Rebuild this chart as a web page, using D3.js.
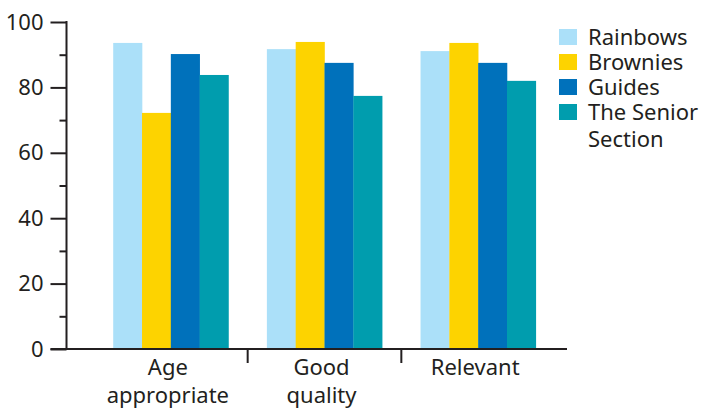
<!DOCTYPE html>
<html>
<head>
<meta charset="utf-8">
<script src="https://cdn.jsdelivr.net/npm/d3@7"></script>
<style>
  html, body { margin: 0; padding: 0; background: #fff; }
  svg { display: block; }
  text { font-family: "Noto Sans", sans-serif; fill: #231f20; }
</style>
</head>
<body>
<svg id="chart" width="705" height="410"></svg>
<script>
// Survey results: share (%) agreeing with each statement, by section
const categories = [["Age", "appropriate"], ["Good", "quality"], ["Relevant"]];
const seriesNames = ["Rainbows", "Brownies", "Guides", "The Senior Section"];
const rainbows = [93.6, 91.7, 91.1];
const brownies = [72.2, 93.9, 93.6];
const guides   = [90.2, 87.5, 87.5];
const senior   = [83.8, 77.4, 82.0];
const yTicks = [0, 20, 40, 60, 80, 100];
const colors = ["#abe0f9", "#fdd300", "#0071bb", "#009dae"];

const series = [rainbows, brownies, guides, senior];
const catKeys = categories.map(c => c.join(" "));

const svg = d3.select("#chart");
const axisColor = "#231f20";
const fontSize = 22;

const x0 = d3.scaleBand()
  .domain(catKeys)
  .range([94, 555])
  .paddingInner(0.25)
  .paddingOuter(0.125);

const x1 = d3.scaleBand()
  .domain(seriesNames)
  .range([0, x0.bandwidth()]);

const y = d3.scaleLinear().domain([0, 100]).range([349, 22]);
const axisX = 66.5;

// Bars
const groups = svg.append("g")
  .selectAll("g")
  .data(catKeys)
  .join("g")
  .attr("transform", d => `translate(${x0(d)},0)`);

groups.selectAll("rect")
  .data((d, i) => seriesNames.map((s, j) => ({ s, v: series[j][i], c: colors[j] })))
  .join("rect")
  .attr("x", d => x1(d.s))
  .attr("width", x1.bandwidth() + 0.3)
  .attr("y", d => y(d.v))
  .attr("height", d => y(0) - y(d.v))
  .attr("fill", d => d.c);

// Y axis with major and minor ticks
const yAxis = svg.append("g").attr("transform", `translate(${axisX},0)`);
yAxis.call(d3.axisLeft(y).tickValues(d3.range(10, 100, 20)).tickSize(7).tickFormat(""))
  .call(g => g.select(".domain").remove());
yAxis.append("g")
  .call(d3.axisLeft(y).tickValues(yTicks).tickSize(16).tickPadding(7).tickFormat(d3.format("d")))
  .call(g => g.select(".domain").remove())
  .call(g => g.selectAll("text").attr("font-size", fontSize).attr("font-family", null).attr("fill", axisColor));
yAxis.selectAll("line").attr("stroke", axisColor).attr("stroke-width", 2);
yAxis.append("line")
  .attr("x1", 0).attr("x2", 0)
  .attr("y1", y(100) - 1).attr("y2", y(0))
  .attr("stroke", axisColor).attr("stroke-width", 2);

// X baseline and category dividers
svg.append("line")
  .attr("x1", axisX - 16).attr("x2", 567)
  .attr("y1", y(0)).attr("y2", y(0))
  .attr("stroke", axisColor).attr("stroke-width", 2);

const half = x0.step() * x0.paddingInner() / 2;
svg.append("g").selectAll("line")
  .data(catKeys.slice(1))
  .join("line")
  .attr("x1", d => x0(d) - half).attr("x2", d => x0(d) - half)
  .attr("y1", y(0)).attr("y2", y(0) + 14)
  .attr("stroke", axisColor).attr("stroke-width", 2);

// Category labels
svg.append("g").selectAll("text")
  .data(categories)
  .join("text")
  .attr("text-anchor", "middle")
  .attr("font-size", fontSize)
  .attr("transform", (d, i) => `translate(${x0(catKeys[i]) + x0.bandwidth() / 2 - 3},375)`)
  .selectAll("tspan")
  .data(d => d)
  .join("tspan")
  .attr("x", 0)
  .attr("y", (d, i) => i * 28)
  .text(d => d);

// Legend
const legend = svg.append("g").attr("transform", "translate(559,29)");
const legendLines = [["Rainbows"], ["Brownies"], ["Guides"], ["The Senior", "Section"]];
const rows = legend.selectAll("g")
  .data(seriesNames)
  .join("g")
  .attr("transform", (d, i) => `translate(0,${i * 25})`);
rows.append("rect")
  .attr("width", 18).attr("height", 16)
  .attr("fill", (d, i) => colors[i]);
rows.append("text")
  .attr("font-size", fontSize)
  .selectAll("tspan")
  .data((d, i) => legendLines[i])
  .join("tspan")
  .attr("x", 29)
  .attr("y", (d, i) => 16 + i * 26.5)
  .text(d => d);
</script>
</body>
</html>
